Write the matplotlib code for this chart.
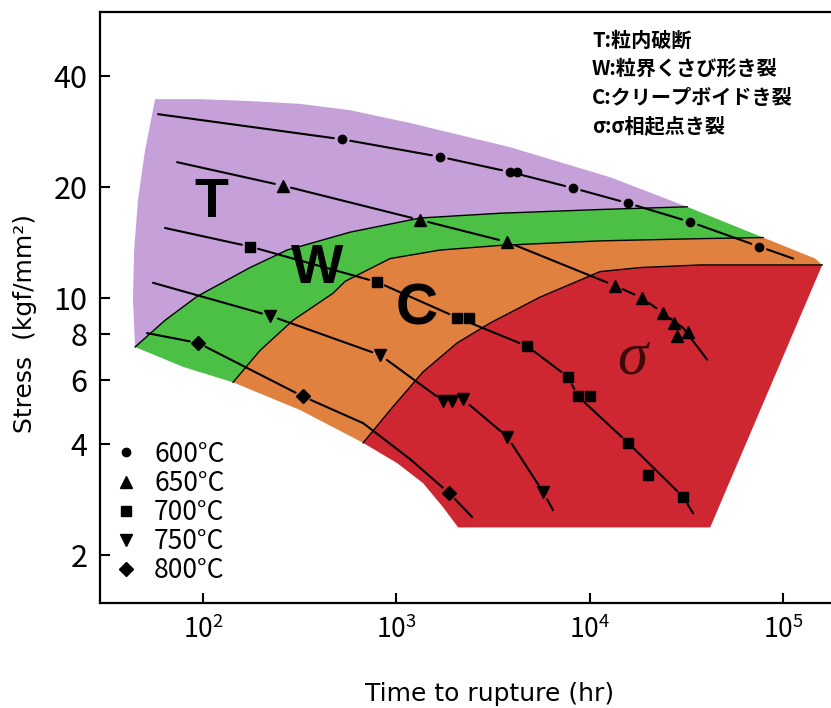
import numpy as np
import matplotlib.pyplot as plt
from matplotlib.lines import Line2D
from matplotlib.ticker import NullLocator

plt.rcParams['font.family'] = ['Noto Sans CJK JP', 'DejaVu Sans']

# measured rupture data (time hr, stress kgf/mm2)
t600 = [524, 1683, 3875, 4211, 8207, 15800, 33070, 75200]
s600 = [27.0, 24.2, 22.0, 22.0, 19.9, 18.1, 16.1, 13.8]
t650 = [259, 1326, 3739, 13530, 18670, 23980, 27330, 28340, 32290]
s650 = [20.2, 16.3, 14.2, 10.8, 10.0, 9.1, 8.55, 7.9, 8.1]
t700 = [175, 795, 2061, 2377, 4744, 7731, 8710, 10049, 15800, 20050, 30430]
s700 = [13.8, 11.05, 8.85, 8.8, 7.4, 6.1, 5.4, 5.4, 4.04, 3.3, 2.88]
t750 = [222, 824, 1744, 1942, 2213, 3739, 5741]
s750 = [8.95, 7.0, 5.25, 5.25, 5.3, 4.2, 2.97]
t800 = [94.2, 329, 1873]
s800 = [7.55, 5.4, 2.95]

# fitted curves
c600_t = [58.5, 524, 1683, 3875, 8207, 15800, 33070, 75200, 112800]
c600_s = [31.6, 27.0, 24.2, 22.0, 19.9, 18.1, 16.1, 13.8, 12.8]
c650_t = [73.4, 259, 1326, 3739, 13530, 18670, 23980, 30430, 40490]
c650_s = [23.4, 20.2, 16.3, 14.2, 10.8, 10.0, 9.1, 8.29, 6.8]
c700_t = [63.6, 175, 795, 2061, 4744, 7731, 8710, 15800, 30430, 34260]
c700_s = [15.5, 13.8, 11.05, 8.85, 7.4, 6.1, 5.4, 4.04, 2.88, 2.6]
c750_t = [55.1, 222, 824, 1744, 2213, 3739, 5741, 6465]
c750_s = [11.0, 8.95, 7.0, 5.25, 5.3, 4.2, 2.97, 2.65]
c800_t = [51.3, 94.2, 329, 673, 1177, 1873, 2464]
c800_s = [8.03, 7.55, 5.4, 4.57, 3.65, 2.95, 2.54]

# fracture-mode map boundaries
top_t = [56.5, 96.5, 175, 318, 576, 1177, 3875, 12750, 31900, 78890, 146600, 159400]
top_s = [34.7, 34.7, 34.3, 33.7, 32.4, 29.9, 25.7, 21.3, 17.7, 14.6, 12.8, 12.3]
left_t = [56.5, 50.1, 46.1, 44.0, 43.4, 44.5]
left_s = [34.7, 25.2, 18.5, 13.5, 9.88, 7.36]
tw_t = [44.5, 63.6, 93.1, 175, 272, 576, 1326, 3440, 11320, 31900]
tw_s = [7.36, 8.7, 10.1, 12.1, 13.5, 15.1, 16.5, 17.0, 17.4, 17.7]
wlow_t = [44.5, 78.8, 143]
wlow_s = [7.36, 6.5, 5.9]
wc_t = [143, 197, 292, 470, 543, 928, 1683, 3440, 11320, 37250, 78890]
wc_s = [5.9, 7.2, 8.7, 10.3, 11.1, 12.8, 13.5, 13.9, 14.3, 14.5, 14.6]
clow_t = [143, 318, 673]
clow_s = [5.9, 4.96, 4.04]
cs_t = [673, 928, 1374, 2061, 3052, 5539, 11320, 18230, 37250, 159400]
cs_s = [4.04, 4.96, 6.3, 7.55, 8.55, 10.06, 11.8, 12.1, 12.3, 12.3]
slow_t = [673, 1008, 1374, 1744, 2086, 41980]
slow_s = [4.04, 3.56, 3.14, 2.70, 2.38, 2.38]

fig = plt.figure(figsize=(8.31, 7.08), dpi=100)
ax = fig.add_axes([0.1203, 0.1483, 0.8797, 0.8348])
ax.set_xscale('log')
ax.set_yscale('log')
ax.set_xlim(29.3, 1.77e5)
ax.set_ylim(1.483, 59.9)

c_T, c_W, c_C, c_S = '#c6a0d8', '#4cc045', '#e0813f', '#cf2732'

def cat(*parts):
    return np.concatenate([np.asarray(p, float) for p in parts])

# T region
ax.fill(cat(top_t[:9], tw_t[::-1], left_t[::-1]),
        cat(top_s[:9], tw_s[::-1], left_s[::-1]), color=c_T, lw=0, zorder=1)
# W region
ax.fill(cat(tw_t, top_t[8:10], wc_t[::-1], wlow_t[::-1]),
        cat(tw_s, top_s[8:10], wc_s[::-1], wlow_s[::-1]), color=c_W, lw=0, zorder=1)
# C region
ax.fill(cat(top_t[9:], cs_t[::-1], clow_t[::-1], wc_t),
        cat(top_s[9:], cs_s[::-1], clow_s[::-1], wc_s), color=c_C, lw=0, zorder=1)
# sigma region
ax.fill(cat(cs_t, slow_t[::-1]), cat(cs_s, slow_s[::-1]), color=c_S, lw=0, zorder=1)

for bt, bs in [(tw_t, tw_s), (wc_t, wc_s), (cs_t, cs_s)]:
    ax.plot(bt, bs, color='black', lw=1.0, zorder=2)

series = [
    (t600, s600, c600_t, c600_s, 'o', 6),
    (t650, s650, c650_t, c650_s, '^', 9),
    (t700, s700, c700_t, c700_s, 's', 7),
    (t750, s750, c750_t, c750_s, 'v', 9),
    (t800, s800, c800_t, c800_s, 'D', 7.5),
]

for pt, ps, ct, cs, mk, ms in series:
    pts = set(zip(pt, ps))
    for i in range(len(ct) - 1):
        a = (ct[i], cs[i])
        b = (ct[i + 1], cs[i + 1])
        ax.annotate('', xy=b, xytext=a,
                    arrowprops=dict(arrowstyle='-', color='black', lw=1.5,
                                    shrinkA=6 if a in pts else 0,
                                    shrinkB=6 if b in pts else 0),
                    zorder=3)
    ax.plot(pt, ps, linestyle='none', marker=mk, ms=ms, color='black', zorder=4)

# region letters
ax.text(111, 18.1, 'T', family='Liberation Sans', weight='bold', size=40,
        ha='center', va='center', zorder=5)
ax.text(389, 12.0, 'W', family='Liberation Sans', weight='bold', size=40,
        ha='center', va='center', zorder=5)
ax.text(1279, 9.3, 'C', family='Liberation Sans', weight='bold', size=42,
        ha='center', va='center', zorder=5)
ax.text(16570, 6.83, 'σ', family='Liberation Serif', style='italic', size=44,
        color='#3d0808', ha='center', va='center', zorder=5)

# fracture mode notes
notes = ['T:粒内破断', 'W:粒界くさび形き裂', 'C:クリープボイドき裂', 'σ:σ相起点き裂']
for i, s in enumerate(notes):
    fig.text(592 / 831, 1 - (40 + 28.5 * i) / 708, s,
             family=['Noto Sans CJK JP', 'DejaVu Sans'], weight='bold',
             size=14.5, va='center', ha='left')

# axes styling
for side in ['left', 'bottom', 'top']:
    ax.spines[side].set_linewidth(1.6)
ax.spines['right'].set_visible(False)
ax.set_yticks([2, 4, 6, 8, 10, 20, 40])
ax.set_yticklabels(['2', '4', '6', '8', '10', '20', '40'])
ax.set_xticks([1e2, 1e3, 1e4, 1e5])
ax.set_xticklabels([r'$\mathregular{10^{2}}$', r'$\mathregular{10^{3}}$',
                    r'$\mathregular{10^{4}}$', r'$\mathregular{10^{5}}$'])
ax.xaxis.set_minor_locator(NullLocator())
ax.yaxis.set_minor_locator(NullLocator())
ax.tick_params(axis='y', direction='in', length=7, width=1.5, labelsize=22, pad=9)
ax.tick_params(axis='x', direction='in', length=7, width=1.5, labelsize=19, pad=9)

fig.text(490 / 831, 1 - 694 / 708, 'Time to rupture (hr)', family='DejaVu Sans',
         size=18, ha='center', va='center')
fig.text(25 / 831, 1 - 323 / 708, 'Stress  (kgf/mm²)', family='DejaVu Sans',
         size=18, ha='center', va='center', rotation=90)

# legend
labels = ['600°C', '650°C', '700°C', '750°C', '800°C']
handles = [Line2D([], [], linestyle='none', marker=m, ms=s, color='black')
           for m, s in [('o', 6), ('^', 9), ('s', 7), ('v', 9), ('D', 7.5)]]
ax.legend(handles, labels, loc='lower left', bbox_to_anchor=(0.02, 0.032),
          frameon=False, fontsize=19, handlelength=0.9, handletextpad=0.6,
          labelspacing=0.08, borderpad=0, borderaxespad=0)

fig.savefig('out.png', dpi=100)
